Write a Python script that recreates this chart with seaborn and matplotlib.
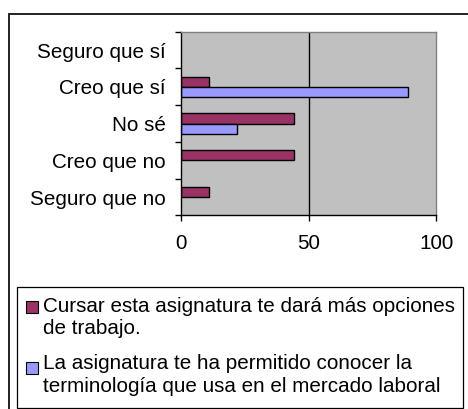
import matplotlib
matplotlib.use('Agg')
import matplotlib.pyplot as plt
from matplotlib.patches import Rectangle
from matplotlib.lines import Line2D
import seaborn as sns
import pandas as pd

# survey answers, top to bottom
categories = ['Seguro que sí', 'Creo que sí', 'No sé', 'Creo que no', 'Seguro que no']
series_names = ['Cursar esta asignatura te dará más opciones\nde trabajo.',
                'La asignatura te ha permitido conocer la\nterminología que usa en el mercado laboral']
opciones_trabajo = [0, 11.1, 44.4, 44.4, 11.1]
terminologia = [0, 88.9, 22.2, 0, 0]
colors = ['#993366', '#9999FF']
x_ticks = [0, 50, 100]

W, H = 468, 409
FS = 14.9


def px(x0, y0, x1, y1):
  # pixel box (top-left origin) -> figure fraction rect
  return [x0 / W, 1 - y1 / H, (x1 - x0) / W, (y1 - y0) / H]


df = pd.DataFrame({
    'respuesta': categories * 2,
    'valor': opciones_trabajo + terminologia,
    'serie': [series_names[0]] * len(categories) + [series_names[1]] * len(categories),
})

sns.set_theme(style='white')
plt.rcParams['font.family'] = ['Liberation Sans', 'DejaVu Sans']

fig = plt.figure(figsize=(W / 100, H / 100), dpi=100)
ax = fig.add_axes(px(180.7, 31.7, 436.3, 215.5))

sns.barplot(data=df, x='valor', y='respuesta', hue='serie', order=categories,
            hue_order=series_names, palette=colors, orient='h', width=0.56,
            edgecolor='black', linewidth=1.0, saturation=1, errorbar=None,
            legend=False, ax=ax)

# Excel draws nothing for empty answers
for p in ax.patches:
  if p.get_width() == 0:
    p.set_visible(False)

ax.set_facecolor('#C0C0C0')
ax.set_xlim(0, 100)
ax.set_ylim(4.5, -0.5)
ax.set_xlabel('')
ax.set_ylabel('')
ax.axvline(50, color='black', lw=1, zorder=0.5)

ax.set_xticks(x_ticks)
ax.set_yticks(range(len(categories)))
ax.set_yticklabels(categories)
ax.set_yticks([i - 0.5 for i in range(len(categories) + 1)], minor=True)
ax.tick_params(axis='y', which='major', left=False, length=0, pad=10.8, labelsize=FS, labelcolor='black')
ax.tick_params(axis='y', which='minor', left=True, length=4.3, width=1, color='black')
ax.tick_params(axis='x', which='major', bottom=True, length=4.6, width=1, color='black',
               pad=9, labelsize=FS, labelcolor='black')

for s in ['left', 'bottom']:
  ax.spines[s].set_color('black')
  ax.spines[s].set_linewidth(1)
for s in ['top', 'right']:
  ax.spines[s].set_color('#808080')
  ax.spines[s].set_linewidth(1)

# outer chart frame (cut by the image edges)
fig.add_artist(Line2D([9 / W, 1], [1 - 14 / H, 1 - 14 / H], color='#222222', lw=1.4))
fig.add_artist(Line2D([9 / W, 9 / W], [1 - 14 / H, 0], color='#222222', lw=1.4))

# legend box
fig.add_artist(Rectangle((16.7 / W, 1 - 407.7 / H), (463.3 - 16.7) / W, (407.7 - 286.7) / H,
                         transform=fig.transFigure, fill=False, ec='black', lw=0.9))
marker_tops = [300.5, 362.0]
baselines = [[311.7, 334.0], [369.3, 391.7]]
for name, color, top, bls in zip(series_names, colors, marker_tops, baselines):
  fig.add_artist(Rectangle((25.5 / W, 1 - (top + 12) / H), 12 / W, 12 / H,
                           transform=fig.transFigure, fc=color, ec='black', lw=0.8))
  for line, bl in zip(name.split('\n'), bls):
    fig.text(43 / W, 1 - bl / H, line, fontsize=FS, va='baseline', ha='left', color='black')

fig.savefig('out.png', dpi=100)
